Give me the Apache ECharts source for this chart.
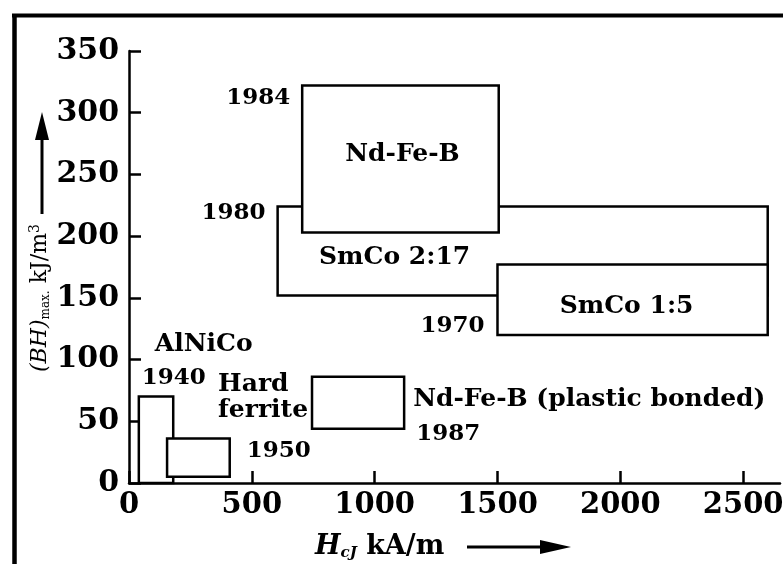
<!DOCTYPE html>
<html>
<head>
<meta charset="utf-8">
<script src="https://cdn.jsdelivr.net/npm/echarts@6/dist/echarts.min.js"></script>
<style>
  html, body { margin: 0; padding: 0; background: #fff; }
  #chart { width: 783px; height: 564px; }
</style>
</head>
<body>
<div id="chart"></div>
<script>
// magnet families, drawn back to front
const names = ['AlNiCo', 'Hard\nferrite', 'Nd-Fe-B (plastic bonded)', 'SmCo 2:17', 'SmCo 1:5', 'Nd-Fe-B'];
const years = ['1940', '1950', '1987', '1980', '1970', '1984'];
const hcjMin = [40, 155, 745, 605, 1500, 705];     // kA/m
const hcjMax = [180, 410, 1120, 2600, 2600, 1505];
const bhMin = [0, 5, 44, 152, 120, 203];           // kJ/m3
const bhMax = [70, 36, 86, 224, 177, 322];

const xTicks = [0, 500, 1000, 1500, 2000, 2500];

const FONT = '"DejaVu Serif", "Liberation Serif", serif';

// where each box's two labels sit, relative to the box edges (px)
const labelPlace = [
  { name: ['L', 16, 'T', -52, 'left'], year: ['L', 3, 'T', -19, 'left'] },
  { name: ['L', 51, 'T', -41, 'left'], year: ['R', 17, 'T', 12, 'left'] },
  { name: ['R', 9, 'T', 23, 'left'], year: ['R', 12, 'T', 57, 'left'] },
  { name: ['L', 117, 'B', -38, 'center'], year: ['L', -12, 'T', 7, 'right'] },
  { name: ['C', -6, 'M', 7, 'center'], year: ['L', -13, 'B', -9, 'right'] },
  { name: ['C', 2, 'M', -5, 'center'], year: ['L', -12, 'T', 12, 'right'] }
];

const boxes = names.map((n, i) => [hcjMin[i], hcjMax[i], bhMin[i], bhMax[i]]);

const chart = echarts.init(document.getElementById('chart'));

const renderItem = (params, api) => {
  const i = params.dataIndex;
  const tl = api.coord([api.value(0), api.value(3)]);
  const br = api.coord([api.value(1), api.value(2)]);
  const edge = { L: tl[0], R: br[0], T: tl[1], B: br[1], C: (tl[0] + br[0]) / 2, M: (tl[1] + br[1]) / 2 };
  const makeText = (txt, p, size) => ({
    type: 'text',
    x: edge[p[0]] + p[1],
    y: edge[p[2]] + p[3],
    style: {
      text: txt,
      fill: '#000',
      font: 'bold ' + size + 'px ' + FONT,
      lineHeight: 26,
      align: p[4],
      verticalAlign: 'middle'
    }
  });
  return {
    type: 'group',
    children: [
      {
        type: 'rect',
        shape: { x: tl[0], y: tl[1], width: br[0] - tl[0], height: br[1] - tl[1] },
        style: { fill: '#fff', stroke: '#000', lineWidth: 2.5 }
      },
      makeText(names[i], labelPlace[i].name, 25),
      makeText(years[i], labelPlace[i].year, 23)
    ]
  };
};

const option = {
  backgroundColor: '#fff',
  animation: false,
  grid: { left: 129, right: 3, top: 51, bottom: 81, outerBoundsMode: 'none', containLabel: false },
  xAxis: {
    type: 'value',
    min: 0,
    max: 2650,
    splitLine: { show: false },
    axisLine: { lineStyle: { color: '#000', width: 2.5 } },
    axisTick: { inside: true, length: 12, customValues: xTicks, lineStyle: { color: '#000', width: 2.5 } },
    axisLabel: {
      customValues: xTicks,
      formatter: (v) => String(v),
      margin: 8,
      color: '#000',
      fontFamily: FONT,
      fontWeight: 'bold',
      fontSize: 29
    }
  },
  yAxis: {
    type: 'value',
    min: 0,
    max: 350,
    interval: 50,
    splitLine: { show: false },
    axisLine: { lineStyle: { color: '#000', width: 2.5 } },
    axisTick: { inside: true, length: 12, lineStyle: { color: '#000', width: 2.5 } },
    axisLabel: {
      margin: 10,
      color: '#000',
      fontFamily: FONT,
      fontWeight: 'bold',
      fontSize: 30
    }
  },
  series: [
    {
      type: 'custom',
      renderItem: renderItem,
      data: boxes,
      clip: false
    }
  ],
  graphic: [
    // frame
    { type: 'line', shape: { x1: 12, y1: 15.5, x2: 783, y2: 15.5 }, style: { stroke: '#000', lineWidth: 4 } },
    { type: 'line', shape: { x1: 14.5, y1: 14, x2: 14.5, y2: 564 }, style: { stroke: '#000', lineWidth: 4.5 } },
    // y axis title with arrow
    {
      type: 'text',
      x: 40, y: 298,
      rotation: Math.PI / 2,
      style: {
        text: '{i|(BH)}{sub|max.}{n| kJ/m}{sup|3}',
        fill: '#000',
        align: 'center',
        verticalAlign: 'middle',
        rich: {
          i: { font: 'italic 22px ' + FONT, fill: '#000' },
          sub: { font: '12px ' + FONT, fill: '#000', verticalAlign: 'bottom', padding: [8, 0, 0, 0] },
          n: { font: '22px ' + FONT, fill: '#000' },
          sup: { font: '14px ' + FONT, fill: '#000', verticalAlign: 'top', padding: [0, 0, 10, 0] }
        }
      }
    },
    { type: 'line', shape: { x1: 42, y1: 214, x2: 42, y2: 135 }, style: { stroke: '#000', lineWidth: 3 } },
    { type: 'polygon', shape: { points: [[42, 112], [35, 140], [49, 140]] }, style: { fill: '#000' } },
    // x axis title with arrow
    {
      type: 'text',
      x: 315, y: 547,
      style: {
        text: '{i|H}{sub|cJ}{n| kA/m}',
        fill: '#000',
        align: 'left',
        verticalAlign: 'middle',
        rich: {
          i: { font: 'italic bold 27px ' + FONT, fill: '#000' },
          sub: { font: 'italic bold 15px ' + FONT, fill: '#000', verticalAlign: 'bottom', padding: [8, 0, 0, 0] },
          n: { font: 'bold 27px ' + FONT, fill: '#000' }
        }
      }
    },
    { type: 'line', shape: { x1: 467, y1: 547, x2: 545, y2: 547 }, style: { stroke: '#000', lineWidth: 3 } },
    { type: 'polygon', shape: { points: [[571, 547], [540, 540], [540, 554]] }, style: { fill: '#000' } }
  ]
};

chart.setOption(option);
</script>
</body>
</html>
